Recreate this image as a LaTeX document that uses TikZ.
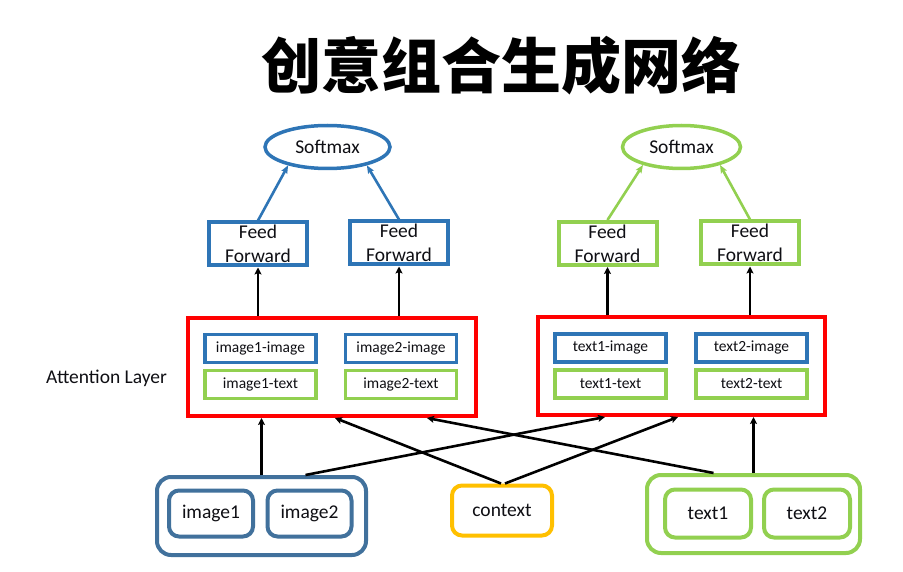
\documentclass[tikz,border=0pt]{standalone}
\usepackage{fontspec}
\setmainfont{Carlito}
\newfontfamily\cjk{Noto Sans CJK SC}
\usetikzlibrary{shapes.geometric,arrows.meta}
\definecolor{sblue}{RGB}{46,117,182}
\definecolor{gblue}{RGB}{65,113,156}
\definecolor{sgreen}{RGB}{146,208,80}
\definecolor{sorange}{RGB}{255,192,0}
\definecolor{txt}{RGB}{15,15,20}
\begin{document}
\begin{tikzpicture}[x=1pt,y=-1pt,
  every node/.style={text=txt},
  bigfont/.style={font=\fontsize{19.5}{24}\selectfont},
  smfont/.style={font=\fontsize{15.5}{18}\selectfont},
  sm/.style={ellipse, draw, line width=3.5pt, minimum width=125pt, minimum height=43pt, inner sep=0pt, bigfont},
  ffbox/.style={draw, line width=4pt, minimum width=98pt, minimum height=43pt, inner sep=0pt, align=center, bigfont},
  redbox/.style={draw=red, line width=4pt, minimum width=288pt, minimum height=98pt, inner sep=0pt},
  inbox/.style={draw, line width=3.8pt, minimum width=111pt, minimum height=28pt, inner sep=0pt, smfont},
  grp/.style={draw, line width=4pt, rounded corners=14pt, inner sep=0pt},
  leaf/.style={draw, line width=4pt, rounded corners=10pt, minimum width=84pt, minimum height=46pt, inner sep=0pt, bigfont},
  arr/.style={line width=2.6pt, -{Stealth[length=7pt,width=7pt,inset=1.5pt]}},
  carr/.style={line width=2.6pt, -{Stealth[length=8pt,width=6.5pt,inset=1.5pt]}}
]
\useasboundingbox[fill=white] (0,0) rectangle (903,572);

% title
\node[text=black] (title) at (501,66) {\cjk\bfseries\fontsize{60}{62}\selectfont 创意组合生成网络};

% softmax
\node[sm, draw=sblue] (smL) at (327.5,147) {Softmax};
\node[sm, draw=sgreen, minimum width=118pt] (smR) at (681.5,147) {Softmax};

% feed forward
\node[ffbox, draw=sblue] (ffL1) at (258,244) {Feed\\Forward};
\node[ffbox, draw=sblue] (ffL2) at (399,243) {Feed\\Forward};
\node[ffbox, draw=sgreen] (ffR1) at (607.5,243.5) {Feed\\Forward};
\node[ffbox, draw=sgreen] (ffR2) at (750,243) {Feed\\Forward};

% attention layer
\node[redbox] (redL) at (332,367) {};
\node[redbox, minimum width=287pt] (redR) at (681.5,366) {};
\node[anchor=west, inner sep=0pt, bigfont] (att) at (46,378) {Attention Layer};

\node[inbox, draw=sblue] (i1i) at (260.5,348.5) {image1-image};
\node[inbox, draw=sgreen] (i1t) at (260.5,384.5) {image1-text};
\node[inbox, draw=sblue] (i2i) at (401,348.5) {image2-image};
\node[inbox, draw=sgreen] (i2t) at (401,384.5) {image2-text};
\node[inbox, draw=sblue] (t1i) at (610.5,348) {text1-image};
\node[inbox, draw=sgreen] (t1t) at (610.5,384) {text1-text};
\node[inbox, draw=sblue] (t2i) at (751.5,348) {text2-image};
\node[inbox, draw=sgreen] (t2t) at (751.5,384) {text2-text};

% bottom groups
\node[grp, draw=gblue, minimum width=209pt, minimum height=78pt] (imgG) at (261.5,516) {};
\node[leaf, draw=gblue] (img1) at (211,513.5) {image1};
\node[leaf, draw=gblue] (img2) at (309.5,513.5) {image2};
\node[leaf, draw=sorange, minimum width=100pt, minimum height=50pt] (ctx) at (502,510.5) {context};
\node[grp, draw=sgreen, minimum width=213pt, minimum height=78pt] (txtG) at (753.5,514) {};
\node[leaf, draw=sgreen, minimum width=86pt, minimum height=48pt] (txt1) at (708,513.5) {text1};
\node[leaf, draw=sgreen, minimum width=86pt, minimum height=48pt] (txt2) at (807,513.5) {text2};

% arrows FF -> softmax
\draw[carr, sblue] (ffL1.north) -- (smL.-155);
\draw[carr, sblue] (ffL2.north) -- (smL.-25);
\draw[carr, sgreen] (ffR1.north) -- (smR.-155);
\draw[carr, sgreen] (ffR2.north) -- (smR.-25);

% attention -> FF
\draw[arr] (ffL1.south |- redL.north) -- (ffL1.south);
\draw[arr] (ffL2.south |- redL.north) -- (ffL2.south);
\draw[arr] (ffR1.south |- redR.north) -- (ffR1.south);
\draw[arr] (ffR2.south |- redR.north) -- (ffR2.south);

% inputs -> attention
\draw[arr] (imgG.north) -- (imgG.north |- redL.south);
\draw[arr] ([xshift=44pt]imgG.north) -- ([xshift=-76.5pt]redR.south);
\draw[arr] ([xshift=-1pt]ctx.north) -- ([xshift=3pt]redL.south);
\draw[arr] ([xshift=3pt]ctx.north) -- ([xshift=-3.5pt]redR.south);
\draw[arr] ([xshift=-40pt]txtG.north) -- ([xshift=95pt]redL.south);
\draw[arr] (txtG.north) -- (txtG.north |- redR.south);
\end{tikzpicture}
\end{document}
